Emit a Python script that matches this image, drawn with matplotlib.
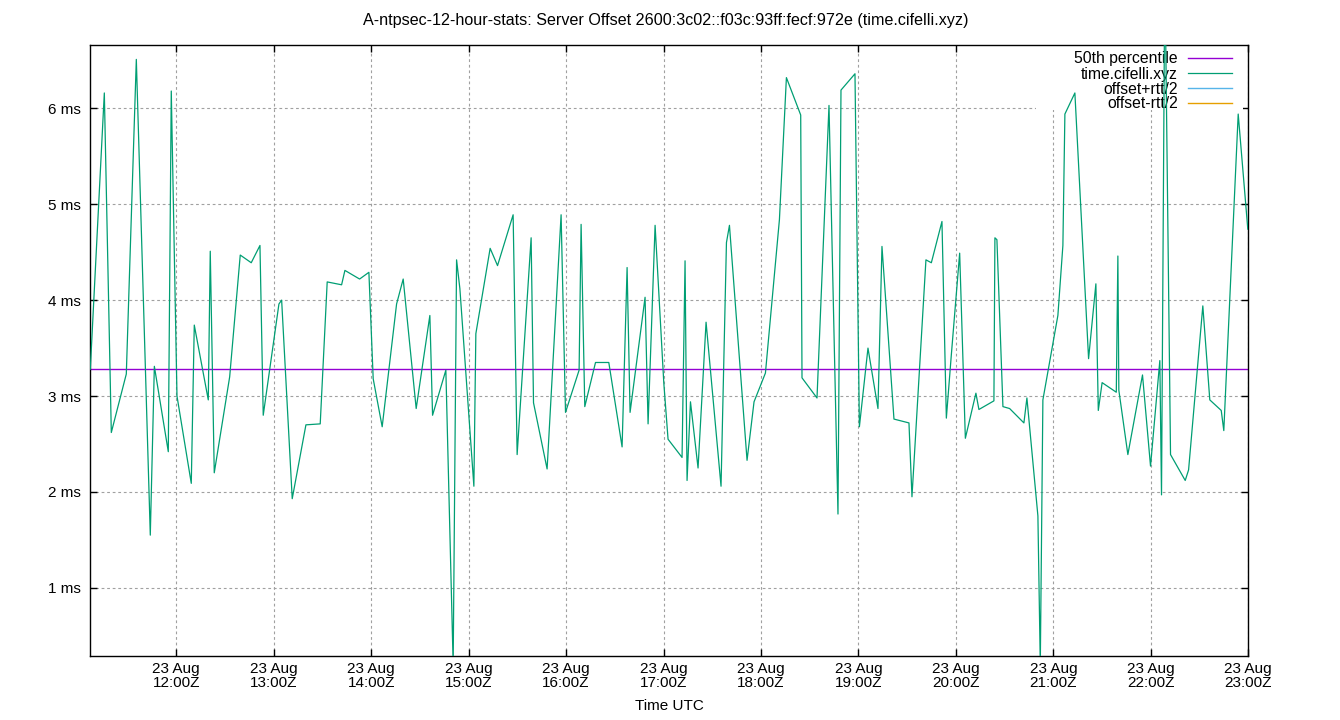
import numpy as np
import pandas as pd
import matplotlib
matplotlib.use("Agg")
import matplotlib.pyplot as plt
from matplotlib.ticker import FuncFormatter
from matplotlib.patches import Rectangle

plt.rcParams['font.family'] = ['Liberation Sans', 'DejaVu Sans']
plt.rcParams['font.size'] = 11

day = "2023-08-23"
title = "A-ntpsec-12-hour-stats: Server Offset 2600:3c02::f03c:93ff:fecf:972e (time.cifelli.xyz)"

# sample times (UTC) and offsets in ms
times = [
    "11:07:04", "11:15:42", "11:20:00", "11:29:14", "11:35:24", "11:44:00", "11:46:30", "11:55:05",
    "11:56:55", "12:00:26", "12:09:14", "12:11:05", "12:19:42", "12:20:55", "12:23:23", "12:32:52",
    "12:39:23", "12:46:09", "12:51:31", "12:53:32", "13:03:12", "13:04:52", "13:11:23", "13:19:49",
    "13:28:37", "13:32:55", "13:41:47", "13:43:49", "13:52:52", "13:58:35", "14:01:14", "14:06:46",
    "14:15:38", "14:19:42", "14:27:42", "14:36:07", "14:37:47", "14:45:58", "14:50:28", "14:52:34",
    "14:54:36", "15:03:13", "15:04:26", "15:13:14", "15:17:47", "15:27:23", "15:29:51", "15:38:28",
    "15:39:56", "15:48:18", "15:56:55", "15:59:38", "16:08:00", "16:09:14", "16:11:30", "16:18:06",
    "16:26:17", "16:34:28", "16:37:33", "16:39:23", "16:48:37", "16:50:28", "16:54:47", "17:00:08",
    "17:02:46", "17:11:23", "17:13:14", "17:14:28", "17:16:34", "17:21:14", "17:26:10", "17:35:23",
    "17:38:43", "17:40:34", "17:51:24", "17:55:42", "18:02:43", "18:11:20", "18:15:38", "18:24:26",
    "18:25:14", "18:34:28", "18:41:51", "18:47:23", "18:49:14", "18:57:51", "19:00:34", "19:05:51",
    "19:12:00", "19:14:28", "19:21:51", "19:31:05", "19:32:56", "19:41:32", "19:44:52", "19:51:24",
    "19:54:06", "19:57:10", "20:02:18", "20:05:48", "20:12:18", "20:14:09", "20:23:23", "20:24:00",
    "20:25:14", "20:28:56", "20:33:03", "20:41:51", "20:43:42", "20:50:28", "20:51:56", "20:53:32",
    "21:02:46", "21:05:51", "21:07:05", "21:13:14", "21:21:40", "21:26:10", "21:27:39", "21:30:00",
    "21:38:44", "21:39:42", "21:40:18", "21:45:51", "21:54:52", "21:59:48", "22:05:32", "22:06:34",
    "22:08:37", "22:12:07", "22:21:10", "22:23:14", "22:32:00", "22:36:18", "22:43:20", "22:44:55",
    "22:53:47", "22:59:42",
]
offset_ms = [
    3.28, 6.16, 2.62, 3.23, 6.51, 1.55, 3.31, 2.42,
    6.18, 3.00, 2.09, 3.74, 2.96, 4.51, 2.20, 3.20,
    4.47, 4.39, 4.57, 2.80, 3.96, 4.00, 1.93, 2.70,
    2.71, 4.19, 4.16, 4.31, 4.22, 4.29, 3.18, 2.68,
    3.96, 4.22, 2.87, 3.84, 2.80, 3.27, 0.20, 4.42,
    4.12, 2.06, 3.65, 4.54, 4.36, 4.89, 2.39, 4.65,
    2.93, 2.24, 4.89, 2.83, 3.27, 4.79, 2.89, 3.35,
    3.35, 2.47, 4.34, 2.83, 4.03, 2.71, 4.78, 3.14,
    2.55, 2.36, 4.41, 2.12, 2.94, 2.25, 3.77, 2.06,
    4.60, 4.78, 2.33, 2.94, 3.24, 4.84, 6.32, 5.93,
    3.19, 2.98, 6.03, 1.77, 6.19, 6.36, 2.68, 3.50,
    2.87, 4.56, 2.76, 2.72, 1.95, 4.42, 4.39, 4.82,
    2.77, 3.43, 4.49, 2.56, 3.03, 2.86, 2.95, 4.65,
    4.63, 2.89, 2.87, 2.72, 2.98, 1.75, 0.20, 2.96,
    3.84, 4.57, 5.94, 6.16, 3.39, 4.17, 2.85, 3.14,
    3.04, 4.46, 3.06, 2.39, 3.22, 2.27, 3.37, 1.97,
    7.50, 2.39, 2.12, 2.23, 3.94, 2.96, 2.85, 2.64,
    5.94, 4.74,
]
p50_ms = 3.284
# the rtt bound series have no points inside this view
rtt_plus_ms = []
rtt_minus_ms = []

ytick_vals = [1, 2, 3, 4, 5, 6]
y_range = (0.29, 6.66)

t = pd.to_datetime([f"{day} {s}" for s in times]).to_numpy()
hours = pd.date_range(f"{day} 12:00", f"{day} 23:00", freq="h")
hour_labels = [h.strftime("%d %b\n%H:%MZ") for h in hours]

fig = plt.figure(figsize=(13.4, 7.2), dpi=100)
ax = fig.add_axes([90.3 / 1340, 64 / 720, 1158 / 1340, 611 / 720])

ax.plot(t, offset_ms, color="#009e73", lw=0.9, zorder=3, label="time.cifelli.xyz")
ax.axhline(p50_ms, color="#9400d3", lw=1.0, zorder=2.5, label="50th percentile")
ax.plot(t[:len(rtt_plus_ms)], rtt_plus_ms, color="#56b4e9", lw=1.0, label="offset+rtt/2")
ax.plot(t[:len(rtt_minus_ms)], rtt_minus_ms, color="#e69f00", lw=1.0, label="offset-rtt/2")

ax.set_xlim(t[0], t[-1])
ax.set_ylim(*y_range)

ax.set_xticks(hours.to_numpy(), hour_labels)
for lbl in ax.get_xticklabels():
    lbl.set_linespacing(0.95)
ax.set_yticks(ytick_vals)
ax.yaxis.set_major_formatter(FuncFormatter(lambda v, pos: f"{v:g} ms"))

ax.tick_params(direction="in", length=5.3, width=1, top=True, right=True, colors="black")
ax.tick_params(axis="x", pad=4.5)
ax.tick_params(axis="y", pad=7)
for sp in ax.spines.values():
    sp.set_linewidth(1.0)

ax.set_axisbelow(True)
ax.grid(True, color="#a0a0a0", lw=0.8, linestyle=(0, (2.5, 2.5)))

# key area is kept clear of grid lines, like gnuplot does
ax.add_patch(Rectangle(((1036 - 90.3) / 1158, 1 - (110 - 45) / 611), (1243 - 1036) / 1158, (110 - 45) / 611,
                       transform=ax.transAxes, facecolor="white", edgecolor="none", zorder=1))

handles, labels = ax.get_legend_handles_labels()
order = [1, 0, 2, 3]
leg = ax.legend([handles[i] for i in order], [labels[i] for i in order],
                loc="upper right", bbox_to_anchor=((1231.7 - 90.3) / 1158, 1 - (51.5 - 45) / 611),
                frameon=False, markerfirst=False, borderpad=0, borderaxespad=0,
                handlelength=2.8, handletextpad=0.64, labelspacing=0.0, fontsize=11.3)
leg.set_zorder(2)

fig.text(0.497, 1 - 20 / 720, title, ha="center", va="center", fontsize=11.6)
fig.text(669.3 / 1340, 1 - 706 / 720, "Time UTC", ha="center", va="center", fontsize=11)

fig.savefig("out.png", dpi=100)
